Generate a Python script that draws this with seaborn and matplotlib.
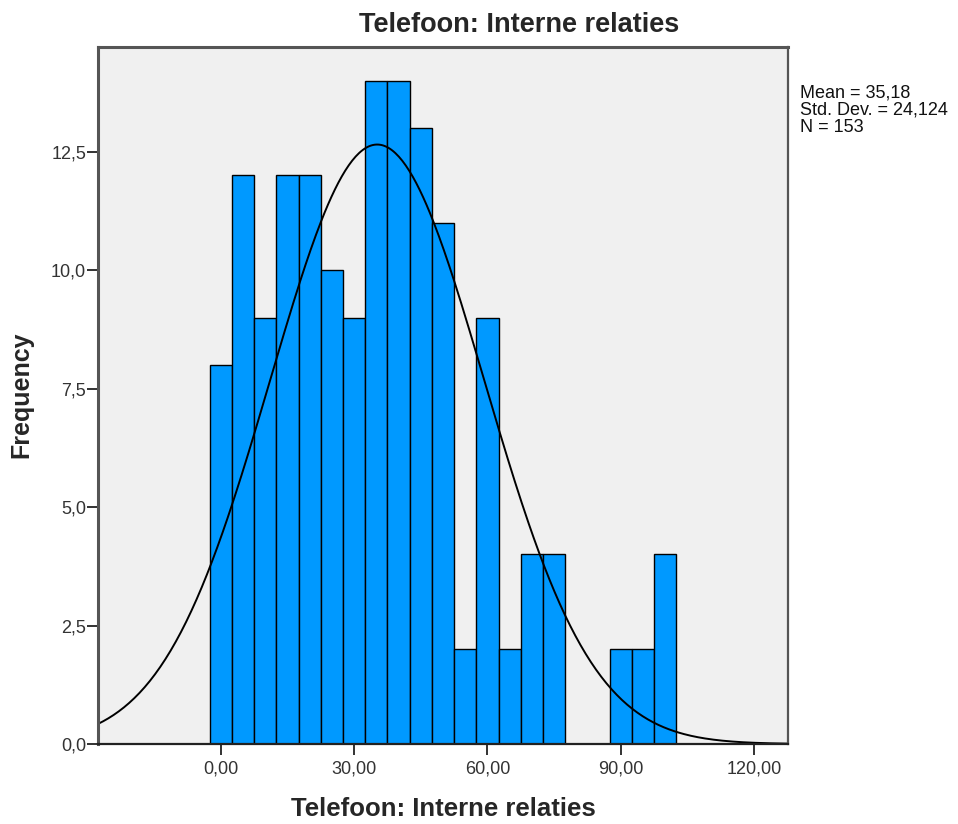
import numpy as np
import pandas as pd
import matplotlib
matplotlib.use("Agg")
import matplotlib.pyplot as plt
import seaborn as sns

# Histogram counts per 5-unit bin (bin centres 0, 5, ..., 100)
bin_centers = [0, 5, 10, 15, 20, 25, 30, 35, 40, 45, 50, 55, 60, 65, 70, 75, 80, 85, 90, 95, 100]
counts = [8, 12, 9, 12, 12, 10, 9, 14, 14, 13, 11, 2, 9, 2, 4, 4, 0, 0, 2, 2, 4]

# Summary statistics shown beside the chart
mean_value = 35.18
std_value = 24.124
n_value = 153

x_ticks = [0, 30, 60, 90, 120]
x_tick_labels = ["0,00", "30,00", "60,00", "90,00", "120,00"]
y_ticks = [0, 2.5, 5.0, 7.5, 10.0, 12.5]
y_tick_labels = ["0,0", "2,5", "5,0", "7,5", "10,0", "12,5"]

title_text = "Telefoon: Interne relaties"

sns.set_style("white")
plt.rcParams["font.family"] = ["Liberation Sans", "DejaVu Sans"]

bin_width = 5
df = pd.DataFrame({"value": bin_centers, "count": counts})

fig = plt.figure(figsize=(9.58, 8.24), dpi=100)
ax = fig.add_axes([98 / 958, 1 - 744 / 824, (788 - 98) / 958, (744 - 46.5) / 824])
ax.set_facecolor("#F0F0F0")

sns.histplot(data=df, x="value", weights="count", binwidth=bin_width,
             binrange=(bin_centers[0] - bin_width / 2, bin_centers[-1] + bin_width / 2),
             ax=ax, color="#0099FF", edgecolor="black", linewidth=1.0, alpha=1.0)

# Normal curve scaled to the histogram
xmin, xmax = -27.7, 127.7
xs = np.linspace(xmin, xmax, 400)
pdf = np.exp(-0.5 * ((xs - mean_value) / std_value) ** 2) / (std_value * np.sqrt(2 * np.pi))
curve = pd.DataFrame({"x": xs, "y": pdf * n_value * bin_width})
sns.lineplot(data=curve, x="x", y="y", ax=ax, color="black", linewidth=1.4)

ax.set_xlim(xmin, xmax)
ax.set_ylim(0, 14.72)
ax.set_xticks(x_ticks)
ax.set_xticklabels(x_tick_labels)
ax.set_yticks(y_ticks)
ax.set_yticklabels(y_tick_labels)
ax.tick_params(axis="both", bottom=True, left=True, direction="out", length=8,
               width=1.3, color="#222222", labelsize=13, labelcolor="#333333")
ax.tick_params(axis="y", pad=0.5)
ax.tick_params(axis="x", pad=4)

for side in ["left", "top", "right", "bottom"]:
    ax.spines[side].set_visible(True)
    ax.spines[side].set_color("#555555")
ax.spines["left"].set_linewidth(2.2)
ax.spines["top"].set_linewidth(2.2)
ax.spines["right"].set_linewidth(1.6)
ax.spines["bottom"].set_linewidth(1.6)
ax.spines["bottom"].set_color("#222222")

ax.set_xlabel(title_text, fontsize=18.5, fontweight="bold", labelpad=14)
ax.set_ylabel("Frequency", fontsize=18, fontweight="bold", labelpad=13)

fig.text(519 / 958, 1 - 25 / 824, title_text, ha="center", va="center",
         fontsize=19.5, fontweight="bold")

stats_text = "\n".join([
    "Mean = " + f"{mean_value:.2f}".replace(".", ","),
    "Std. Dev. = " + f"{std_value:.3f}".replace(".", ","),
    f"N = {n_value}",
])
fig.text(800 / 958, 1 - 84 / 824, stats_text, ha="left", va="top",
         fontsize=13, linespacing=1.05, color="#111111")

fig.savefig("out.png", dpi=100, facecolor="white")
